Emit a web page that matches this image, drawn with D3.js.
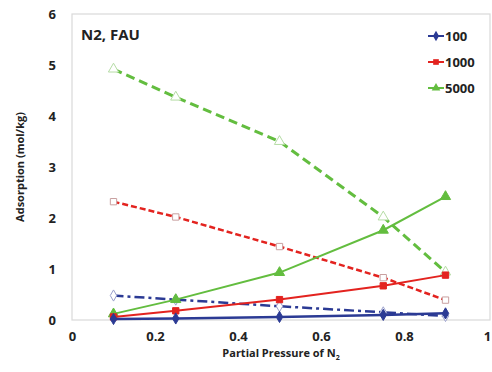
<!DOCTYPE html>
<html><head><meta charset="utf-8">
<script src="https://cdn.jsdelivr.net/npm/d3@7"></script>
<style>body{margin:0;background:#fff}svg{display:block}text{font-family:"Open Sans",Lato,sans-serif}</style>
</head><body><svg id="c" width="492" height="372"></svg>
<script>
const pressures = [0.1, 0.25, 0.5, 0.75, 0.9];
const seriesNames = ["100", "1000", "5000"];
const solid100 = [0.02, 0.03, 0.06, 0.10, 0.13];
const dashed100 = [0.48, 0.40, 0.27, 0.15, 0.08];
const solid1000 = [0.06, 0.18, 0.40, 0.67, 0.88];
const dashed1000 = [2.32, 2.02, 1.44, 0.83, 0.39];
const solid5000 = [0.12, 0.40, 0.93, 1.76, 2.42];
const dashed5000 = [4.92, 4.37, 3.50, 2.02, 0.94];
const xTicks = [0, 0.2, 0.4, 0.6, 0.8, 1];
const yTicks = [0, 1, 2, 3, 4, 5, 6];
const colors = {"100": "#2b3a94", "1000": "#e3231f", "5000": "#63bd3f"};

const svg = d3.select("#c");
const x = d3.scaleLinear().domain([0, 1]).range([72, 487]);
const y = d3.scaleLinear().domain([0, 6]).range([320, 14]);

// frame
svg.append("rect").attr("x", x(0)).attr("y", y(6)).attr("width", 490 - x(0)).attr("height", y(0) - y(6))
  .attr("fill", "none").attr("stroke", "#d9d9d9").attr("stroke-width", 1.2);

const xAxis = svg.append("g").attr("transform", `translate(0,${y(0)})`)
  .call(d3.axisBottom(x).tickValues(xTicks).tickSize(0).tickPadding(12).tickFormat(d => d3.format("")(d)));
xAxis.select(".domain").remove();
xAxis.selectAll("text").attr("font-size", 13).attr("font-weight", "bold").attr("fill", "#222");

const yAxis = svg.append("g").attr("transform", `translate(${x(0)},0)`)
  .call(d3.axisLeft(y).tickValues(yTicks).tickSize(0).tickPadding(16).tickFormat(d3.format("d")));
yAxis.select(".domain").remove();
yAxis.selectAll("text").attr("font-size", 13).attr("font-weight", "bold").attr("fill", "#222");

svg.append("text").attr("x", 281).attr("y", 357).attr("text-anchor", "middle")
  .attr("font-size", 11).attr("font-weight", "bold").attr("fill", "#222")
  .html('Partial Pressure of N<tspan font-size="7" dy="3">2</tspan>');
svg.append("text").attr("transform", "translate(24,167) rotate(-90)").attr("text-anchor", "middle")
  .attr("font-size", 11).attr("font-weight", "bold").attr("fill", "#222").text("Adsorption (mol/kg)");
svg.append("text").attr("x", 81).attr("y", 40).attr("font-size", 15).attr("font-weight", "bold")
  .attr("fill", "#222").text("N2, FAU");

const line = d3.line().x((d, i) => x(pressures[i])).y(d => y(d));
const sets = [
  {name: "5000", vals: dashed5000, dash: "9,5", open: true, w: 3},
  {name: "1000", vals: dashed1000, dash: "6,3", open: true, w: 2.5},
  {name: "100", vals: dashed100, dash: "10,4,3,4", open: true, w: 2.5},
  {name: "5000", vals: solid5000, dash: null, open: false, w: 2},
  {name: "1000", vals: solid1000, dash: null, open: false, w: 2},
  {name: "100", vals: solid100, dash: null, open: false, w: 2.5}
];
const sym = {"100": d3.symbolDiamond, "1000": d3.symbolSquare, "5000": d3.symbolTriangle};
const symSize = {"100": 36, "1000": 40, "5000": 45};
sets.forEach(s => {
  const c = colors[s.name];
  svg.append("path").datum(s.vals).attr("d", line).attr("fill", "none").attr("stroke", c)
    .attr("stroke-width", s.w).attr("stroke-dasharray", s.dash);
  svg.append("g").selectAll("path").data(s.vals).join("path")
    .attr("transform", (d, i) => `translate(${x(pressures[i])},${y(d)})`)
    .attr("d", d3.symbol(sym[s.name], symSize[s.name]))
    .attr("fill", s.open ? "#fff" : c).attr("stroke", s.open ? (s.name === "5000" ? "#b5dca5" : s.name === "1000" ? "#c9a0a0" : "#9aa0cc") : c)
    .attr("stroke-width", 1);
});

// legend
const lg = svg.append("g");
seriesNames.forEach((n, i) => {
  const cy = 36 + i * 26;
  lg.append("line").attr("x1", 428).attr("x2", 444).attr("y1", cy).attr("y2", cy)
    .attr("stroke", colors[n]).attr("stroke-width", 2);
  lg.append("path").attr("transform", `translate(436,${cy})`).attr("d", d3.symbol(sym[n], 32)).attr("fill", colors[n]);
  lg.append("text").attr("x", 445).attr("y", cy + 5).attr("font-size", 13).attr("font-weight", "bold")
    .attr("fill", "#222").text(n);
});
</script></body></html>
